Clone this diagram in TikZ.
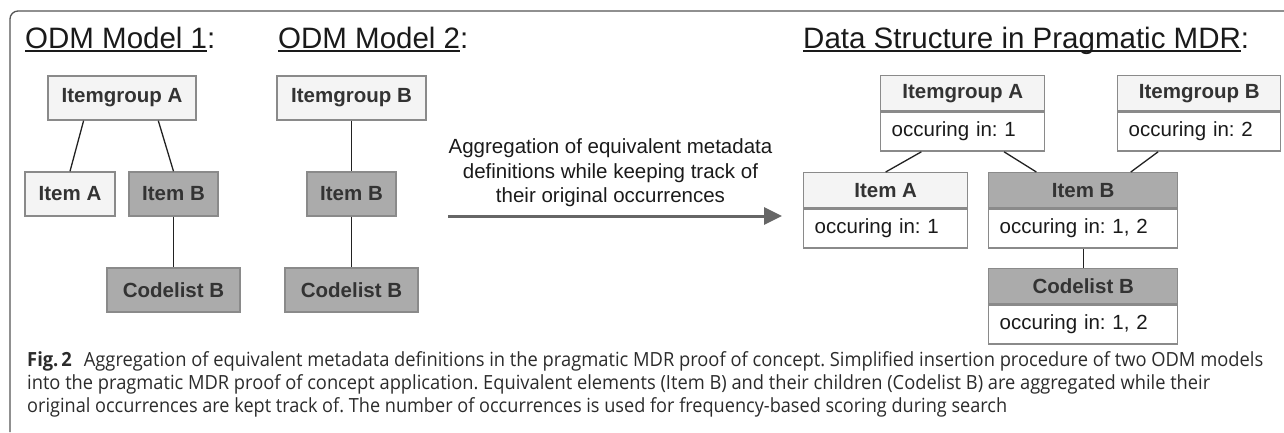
\documentclass[tikz,border=0pt]{standalone}
\usepackage{fontspec}
\setmainfont{Liberation Sans}
\newfontfamily\capfont{Open Sans}
\usetikzlibrary{arrows.meta,calc}
\frenchspacing

\definecolor{framec}{HTML}{555555}
\definecolor{lightbox}{HTML}{F4F4F4}
\definecolor{darkbox}{HTML}{ABABAB}
\definecolor{boxline}{HTML}{8A8A8A}
\definecolor{labeltext}{HTML}{333333}
\definecolor{headtext}{HTML}{1A1A1A}
\definecolor{linkc}{HTML}{222222}
\definecolor{arrowc}{HTML}{666666}
\definecolor{captext}{HTML}{2B2B2B}

% underline at a fixed depth, independent of descenders
\newcommand\ulin[1]{\setbox0=\hbox{#1}\rlap{\rule[-4pt]{\wd0}{1.8pt}}\box0}
% caption line squeezed to a given width, natural height kept
\newcommand\capline[2]{\resizebox{#1}{\height}{\capfont\fontsize{19.5}{21}\selectfont #2}}

\tikzset{
  box/.style={draw=boxline, line width=1.4pt, minimum height=44pt, inner sep=0pt,
    font=\fontsize{20.5}{24}\selectfont\bfseries, text=labeltext},
  lightfill/.style={fill=lightbox},
  darkfill/.style={fill=darkbox},
  headpart/.style={box, anchor=north west, minimum height=35pt},
  bodypart/.style={draw=boxline, line width=1.4pt, fill=white, anchor=north west,
    minimum height=39pt, inner xsep=11pt, inner ysep=0pt, align=left,
    font=\fontsize{20.5}{24}\selectfont, text=headtext},
  link/.style={draw=linkc, line width=1.3pt},
  title/.style={anchor=base west, inner sep=0pt, text=headtext,
    font=\fontsize{29.5}{34}\selectfont},
  caption/.style={anchor=base west, inner sep=0pt, text=captext},
}

\begin{document}
\begin{tikzpicture}[x=1pt, y=-1pt]
\useasboundingbox (0,0) rectangle (1284,432);

% open frame around the figure
\draw[framec, line width=1.3pt, rounded corners=8pt] (10,432) -- (10,11) -- (1284,11);

% titles
\node[title] (t1) at (25,48) {\ulin{ODM Model 1}:};
\node[title] (t2) at (278,48) {\ulin{ODM Model 2}:};
\node[title] (t3) at (803,48) {\ulin{Data Structure in Pragmatic MDR}:};

% ODM model 1
\node[box, lightfill, minimum width=148pt] (m1ig) at (122,98) {Itemgroup A};
\node[box, lightfill, minimum width=90pt] (m1ia) at (70,194) {Item A};
\node[box, darkfill, minimum width=89pt] (m1ib) at (173.5,194) {Item B};
\node[box, darkfill, minimum width=133pt] (m1cb) at (173.5,290) {Codelist B};
\draw[link] ($(m1ig.south west)!0.243!(m1ig.south east)$) -- (m1ia.north);
\draw[link] ($(m1ig.south west)!0.743!(m1ig.south east)$) -- (m1ib.north);
\draw[link] (m1ib.south) -- (m1cb.north);

% ODM model 2
\node[box, lightfill, minimum width=149pt] (m2ig) at (351.5,98) {Itemgroup B};
\node[box, darkfill, minimum width=89pt] (m2ib) at (351.5,194) {Item B};
\node[box, darkfill, minimum width=133pt] (m2cb) at (351.5,290) {Codelist B};
\draw[link] (m2ig.south) -- (m2ib.north);
\draw[link] (m2ib.south) -- (m2cb.north);

% aggregation arrow
\coordinate (arrS) at (448,216);
\coordinate (arrE) at (782,216);
\draw[draw=arrowc, line width=3pt, -{Triangle[length=18pt,width=17pt]}] (arrS) -- (arrE);
\node[align=center, inner sep=0pt, text=headtext,
  font=\fontsize{20.5}{24.5}\selectfont] (arrtxt) at (610.5,173)
  {Aggregation of equivalent metadata\\definitions while keeping track of\\their original occurrences};

% pragmatic MDR structure
\node[headpart, lightfill, minimum width=164pt] (rigAh) at (880,75) {Itemgroup A};
\node[bodypart, text width=142pt] (rigAb) at (rigAh.south west) {occuring in: 1};
\node[headpart, lightfill, minimum width=163pt] (rigBh) at (1117,75) {Itemgroup B};
\node[bodypart, text width=141pt] (rigBb) at (rigBh.south west) {occuring in: 2};
\node[headpart, lightfill, minimum width=164pt] (riAh) at (803,172) {Item A};
\node[bodypart, text width=142pt] (riAb) at (riAh.south west) {occuring in: 1};
\node[headpart, darkfill, minimum width=189pt] (riBh) at (988,172) {Item B};
\node[bodypart, text width=167pt] (riBb) at (riBh.south west) {occuring in: 1, 2};
\node[headpart, darkfill, minimum width=189pt] (rcBh) at (988,268) {Codelist B};
\node[bodypart, text width=167pt] (rcBb) at (rcBh.south west) {occuring in: 1, 2};

\draw[link] ($(rigAb.south west)!0.25!(rigAb.south east)$) -- (riAh.north);
\draw[link] ($(rigAb.south west)!0.75!(rigAb.south east)$) -- ($(riBh.north west)!0.254!(riBh.north east)$);
\draw[link] ($(rigBb.south west)!0.25!(rigBb.south east)$) -- ($(riBh.north west)!0.75!(riBh.north east)$);
\draw[link] (riBb.south) -- (rcBh.north);

% caption
\node[caption] (cap1) at (27,366) {\capline{1236pt}{\textbf{Fig.\,2}\hspace{0.65em}Aggregation of equivalent metadata definitions in the pragmatic MDR proof of concept. Simplified insertion procedure of two ODM models}};
\node[caption] (cap2) at (27,389) {\capline{1183pt}{into the pragmatic MDR proof of concept application. Equivalent elements (Item B) and their children (Codelist B) are aggregated while their}};
\node[caption] (cap3) at (27,412) {\capline{980pt}{original occurrences are kept track of. The number of occurrences is used for frequency-based scoring during search}};
\end{tikzpicture}
\end{document}
